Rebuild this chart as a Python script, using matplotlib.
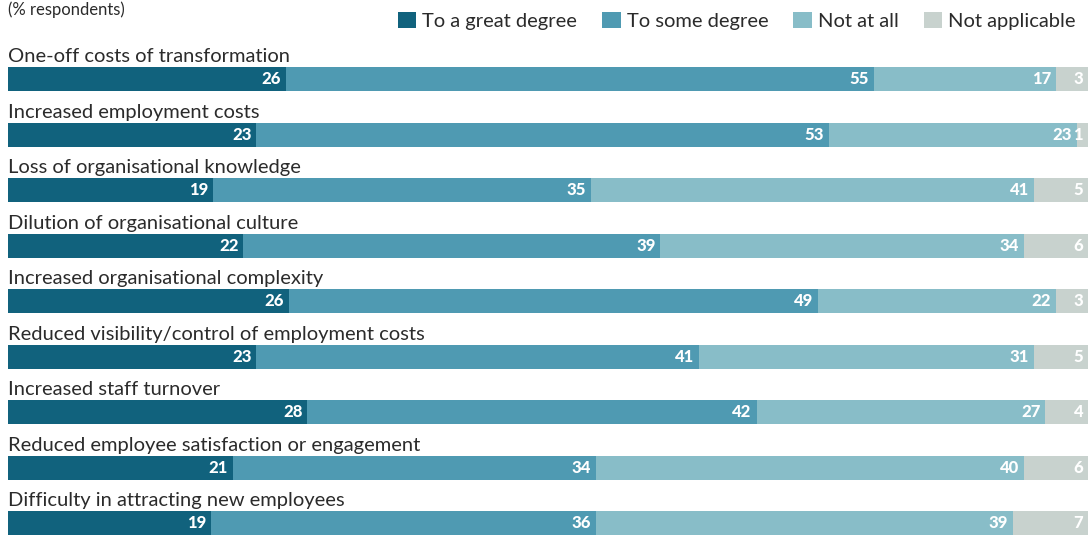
import matplotlib
matplotlib.use("Agg")
import matplotlib.pyplot as plt
from matplotlib.patches import Patch
import numpy as np

categories = [
    "One-off costs of transformation",
    "Increased employment costs",
    "Loss of organisational knowledge",
    "Dilution of organisational culture",
    "Increased organisational complexity",
    "Reduced visibility/control of employment costs",
    "Increased staff turnover",
    "Reduced employee satisfaction or engagement",
    "Difficulty in attracting new employees",
]
great_degree = [26, 23, 19, 22, 26, 23, 28, 21, 19]
some_degree = [55, 53, 35, 39, 49, 41, 42, 34, 36]
not_at_all = [17, 23, 41, 34, 22, 31, 27, 40, 39]
not_applicable = [3, 1, 5, 6, 3, 5, 4, 6, 7]

series_names = ["To a great degree", "To some degree", "Not at all", "Not applicable"]
colors = ["#11627d", "#4f9ab2", "#88bdc8", "#c8d2ce"]

plt.rcParams["font.family"] = ["Lato", "DejaVu Sans"]

W, H = 1088, 535
fig = plt.figure(figsize=(W / 100, H / 100), dpi=100)

top_px, bottom_px = 40, 535
ax = fig.add_axes([8 / W, 0, 1 - 8 / W, (bottom_px - top_px) / H])

row_px0, row_step = 79, 55.5
ax.set_ylim((bottom_px - row_px0) / row_step, (top_px - row_px0) / row_step)
ax.set_xlim(0, 100)
ax.axis("off")

data = np.array([great_degree, some_degree, not_at_all, not_applicable], dtype=float)
totals = data.sum(axis=0)
shares = data / totals * 100
bar_h = 24 / row_step

y = np.arange(len(categories))
left = np.zeros(len(categories))
for k in range(4):
    ax.barh(y, shares[k], left=left, height=bar_h, color=colors[k], linewidth=0)
    for i in range(len(categories)):
        end = left[i] + shares[k][i]
        ax.annotate(f"{int(data[k][i])}", xy=(end, y[i]), xytext=(-3.5, 0),
                    textcoords="offset points", ha="right", va="center",
                    color="white", fontsize=12, fontweight="black")
    left += shares[k]

for i, cat in enumerate(categories):
    ax.text(0, i - 0.30, cat, ha="left", va="baseline", fontsize=14.5, color="#2b2b2b")

fig.text(8 / W, 1.0 - 1 / H, "(% respondents)", ha="left", va="top",
         fontsize=12, color="#2b2b2b")

handles = [Patch(facecolor=c, edgecolor="none") for c in colors]
fig.legend(handles, series_names, ncol=4, loc="upper right",
           bbox_to_anchor=(1.005, 1.012), frameon=False, fontsize=14.5,
           handlelength=0.9, handleheight=0.9, handletextpad=0.3,
           columnspacing=1.25, labelcolor="#2b2b2b")

fig.savefig("out.png", dpi=100)
